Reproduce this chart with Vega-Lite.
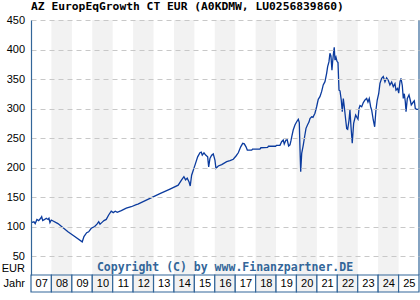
{
  "$schema": "https://vega.github.io/schema/vega-lite/v6.json",
  "autosize": "none",
  "width": 388,
  "height": 255,
  "padding": {"left": 31, "top": 20, "right": 1, "bottom": 25},
  "background": "#ffffff",
  "config": {"view": {"stroke": null}},
  "title": {"text": "AZ EuropEqGrowth CT EUR (A0KDMW, LU0256839860)", "anchor": "start", "frame": "group", "font": "DejaVu Sans Mono", "fontWeight": "bold", "fontSize": 11.3, "color": "#000000", "baseline": "alphabetic", "offset": -7.5},
  "datasets": {
    "years": [
      {"year": 2007, "start": "2007-01-01", "end": "2008-01-01"},
      {"year": 2008, "start": "2008-01-01", "end": "2009-01-01"},
      {"year": 2009, "start": "2009-01-01", "end": "2010-01-01"},
      {"year": 2010, "start": "2010-01-01", "end": "2011-01-01"},
      {"year": 2011, "start": "2011-01-01", "end": "2012-01-01"},
      {"year": 2012, "start": "2012-01-01", "end": "2013-01-01"},
      {"year": 2013, "start": "2013-01-01", "end": "2014-01-01"},
      {"year": 2014, "start": "2014-01-01", "end": "2015-01-01"},
      {"year": 2015, "start": "2015-01-01", "end": "2016-01-01"},
      {"year": 2016, "start": "2016-01-01", "end": "2017-01-01"},
      {"year": 2017, "start": "2017-01-01", "end": "2018-01-01"},
      {"year": 2018, "start": "2018-01-01", "end": "2019-01-01"},
      {"year": 2019, "start": "2019-01-01", "end": "2020-01-01"},
      {"year": 2020, "start": "2020-01-01", "end": "2021-01-01"},
      {"year": 2021, "start": "2021-01-01", "end": "2022-01-01"},
      {"year": 2022, "start": "2022-01-01", "end": "2023-01-01"},
      {"year": 2023, "start": "2023-01-01", "end": "2024-01-01"},
      {"year": 2024, "start": "2024-01-01", "end": "2025-01-01"},
      {"year": 2025, "start": "2025-01-01", "end": "2026-01-01"}
    ],
    "prices": [
      {"d": "2007-01-18", "v": 107}, {"d": "2007-02-23", "v": 108}, {"d": "2007-03-17", "v": 105},
      {"d": "2007-04-17", "v": 112}, {"d": "2007-05-18", "v": 110}, {"d": "2007-06-23", "v": 114},
      {"d": "2007-07-11", "v": 116.6}, {"d": "2007-07-29", "v": 110}, {"d": "2007-09-03", "v": 112},
      {"d": "2007-10-01", "v": 114}, {"d": "2007-11-01", "v": 112}, {"d": "2007-11-18", "v": 114},
      {"d": "2007-12-06", "v": 106.5}, {"d": "2007-12-30", "v": 111}, {"d": "2008-04-27", "v": 105},
      {"d": "2008-10-23", "v": 91}, {"d": "2009-02-21", "v": 83}, {"d": "2009-07-05", "v": 74},
      {"d": "2009-08-05", "v": 83}, {"d": "2009-09-23", "v": 89.5}, {"d": "2009-10-28", "v": 91},
      {"d": "2009-12-14", "v": 97}, {"d": "2010-02-13", "v": 100}, {"d": "2010-03-26", "v": 104},
      {"d": "2010-04-26", "v": 108}, {"d": "2010-05-19", "v": 104}, {"d": "2010-06-24", "v": 107},
      {"d": "2010-07-29", "v": 110}, {"d": "2010-09-08", "v": 112}, {"d": "2010-10-21", "v": 119.5},
      {"d": "2010-12-06", "v": 126}, {"d": "2011-01-11", "v": 123.5}, {"d": "2011-02-16", "v": 126},
      {"d": "2011-03-24", "v": 124}, {"d": "2011-06-04", "v": 127}, {"d": "2011-09-01", "v": 131},
      {"d": "2011-11-29", "v": 133.5}, {"d": "2012-02-27", "v": 137}, {"d": "2012-03-28", "v": 138},
      {"d": "2012-10-29", "v": 147.6}, {"d": "2013-04-25", "v": 155.6}, {"d": "2013-10-22", "v": 163.5},
      {"d": "2014-03-18", "v": 170}, {"d": "2014-05-18", "v": 179}, {"d": "2014-06-28", "v": 184.5},
      {"d": "2014-07-28", "v": 179}, {"d": "2014-08-26", "v": 182}, {"d": "2014-09-26", "v": 176},
      {"d": "2014-10-19", "v": 168.6}, {"d": "2014-11-13", "v": 187}, {"d": "2015-01-12", "v": 204},
      {"d": "2015-03-01", "v": 218}, {"d": "2015-04-11", "v": 225}, {"d": "2015-05-04", "v": 226},
      {"d": "2015-05-22", "v": 221}, {"d": "2015-06-22", "v": 225}, {"d": "2015-07-22", "v": 221},
      {"d": "2015-08-27", "v": 218}, {"d": "2015-09-14", "v": 201}, {"d": "2015-10-07", "v": 215.5},
      {"d": "2015-11-06", "v": 221}, {"d": "2015-12-05", "v": 223}, {"d": "2016-01-04", "v": 212.7},
      {"d": "2016-01-22", "v": 198.6}, {"d": "2016-03-04", "v": 202.5}, {"d": "2016-05-04", "v": 205},
      {"d": "2016-08-01", "v": 210}, {"d": "2016-09-29", "v": 211.6}, {"d": "2016-11-27", "v": 214},
      {"d": "2017-01-15", "v": 219.5}, {"d": "2017-02-25", "v": 225}, {"d": "2017-04-09", "v": 235},
      {"d": "2017-05-15", "v": 241}, {"d": "2017-06-12", "v": 240}, {"d": "2017-07-13", "v": 235},
      {"d": "2017-08-05", "v": 229.6}, {"d": "2017-10-23", "v": 229.6}, {"d": "2017-11-06", "v": 231.3},
      {"d": "2018-03-18", "v": 231.3}, {"d": "2018-04-05", "v": 233.5}, {"d": "2018-08-04", "v": 234},
      {"d": "2018-08-18", "v": 236}, {"d": "2018-12-25", "v": 236}, {"d": "2019-01-09", "v": 237.5},
      {"d": "2019-03-12", "v": 237.5}, {"d": "2019-04-11", "v": 243.7}, {"d": "2019-05-10", "v": 246.6},
      {"d": "2019-05-28", "v": 240}, {"d": "2019-06-27", "v": 246.6}, {"d": "2019-07-20", "v": 247},
      {"d": "2019-08-14", "v": 236.4}, {"d": "2019-09-07", "v": 238.5}, {"d": "2019-09-24", "v": 245},
      {"d": "2019-10-12", "v": 253.4}, {"d": "2019-11-04", "v": 263.5}, {"d": "2019-12-05", "v": 272},
      {"d": "2020-01-05", "v": 277.6}, {"d": "2020-02-03", "v": 281.7}, {"d": "2020-02-21", "v": 276},
      {"d": "2020-03-04", "v": 232.5}, {"d": "2020-03-17", "v": 193}, {"d": "2020-04-04", "v": 224},
      {"d": "2020-05-02", "v": 238}, {"d": "2020-05-28", "v": 253.4}, {"d": "2020-06-20", "v": 266.4},
      {"d": "2020-07-20", "v": 273}, {"d": "2020-08-12", "v": 277}, {"d": "2020-08-30", "v": 283},
      {"d": "2020-09-29", "v": 286}, {"d": "2020-10-22", "v": 285}, {"d": "2020-11-27", "v": 292},
      {"d": "2020-12-27", "v": 303}, {"d": "2021-01-25", "v": 315.6}, {"d": "2021-02-24", "v": 320},
      {"d": "2021-03-26", "v": 328.5}, {"d": "2021-04-24", "v": 340}, {"d": "2021-05-25", "v": 345.5},
      {"d": "2021-06-24", "v": 359.6}, {"d": "2021-07-12", "v": 371}, {"d": "2021-08-04", "v": 379},
      {"d": "2021-08-22", "v": 393.5}, {"d": "2021-09-09", "v": 389}, {"d": "2021-09-27", "v": 365},
      {"d": "2021-10-10", "v": 380}, {"d": "2021-10-24", "v": 393}, {"d": "2021-11-07", "v": 403.6},
      {"d": "2021-11-20", "v": 382}, {"d": "2021-12-08", "v": 387}, {"d": "2021-12-26", "v": 380},
      {"d": "2022-01-13", "v": 378}, {"d": "2022-01-31", "v": 331}, {"d": "2022-02-18", "v": 330},
      {"d": "2022-03-13", "v": 314}, {"d": "2022-03-31", "v": 294.6}, {"d": "2022-04-18", "v": 317},
      {"d": "2022-05-06", "v": 303}, {"d": "2022-05-31", "v": 280.5}, {"d": "2022-06-18", "v": 266},
      {"d": "2022-07-05", "v": 264.8}, {"d": "2022-07-29", "v": 280}, {"d": "2022-08-15", "v": 297.5},
      {"d": "2022-09-02", "v": 270}, {"d": "2022-09-25", "v": 241}, {"d": "2022-10-20", "v": 275},
      {"d": "2022-11-25", "v": 289}, {"d": "2022-12-18", "v": 285}, {"d": "2023-01-06", "v": 282},
      {"d": "2023-01-24", "v": 300}, {"d": "2023-02-11", "v": 305}, {"d": "2023-03-13", "v": 303},
      {"d": "2023-04-11", "v": 310}, {"d": "2023-05-11", "v": 314.4}, {"d": "2023-06-10", "v": 317},
      {"d": "2023-07-03", "v": 311}, {"d": "2023-07-26", "v": 317}, {"d": "2023-08-20", "v": 303},
      {"d": "2023-09-07", "v": 297.5}, {"d": "2023-10-06", "v": 280.5}, {"d": "2023-10-31", "v": 269},
      {"d": "2023-11-23", "v": 297.5}, {"d": "2023-12-16", "v": 314.4}, {"d": "2024-01-11", "v": 325},
      {"d": "2024-02-03", "v": 342.6}, {"d": "2024-03-04", "v": 351}, {"d": "2024-04-02", "v": 354},
      {"d": "2024-05-02", "v": 345}, {"d": "2024-06-01", "v": 352}, {"d": "2024-06-30", "v": 348},
      {"d": "2024-07-30", "v": 340}, {"d": "2024-08-30", "v": 345}, {"d": "2024-09-28", "v": 337},
      {"d": "2024-10-28", "v": 342}, {"d": "2024-11-15", "v": 331}, {"d": "2024-12-15", "v": 334},
      {"d": "2025-01-03", "v": 326}, {"d": "2025-01-26", "v": 345.5}, {"d": "2025-02-13", "v": 351},
      {"d": "2025-03-08", "v": 339}, {"d": "2025-03-26", "v": 317}, {"d": "2025-04-13", "v": 325},
      {"d": "2025-05-01", "v": 311.5}, {"d": "2025-05-14", "v": 294.6}, {"d": "2025-06-06", "v": 317},
      {"d": "2025-07-06", "v": 323}, {"d": "2025-07-29", "v": 314}, {"d": "2025-08-16", "v": 306},
      {"d": "2025-09-21", "v": 311}, {"d": "2025-10-09", "v": 313}, {"d": "2025-10-27", "v": 300},
      {"d": "2025-11-21", "v": 298.6}, {"d": "2025-12-31", "v": 298.6}
    ]
  },
  "encoding": {
    "x": {"type": "temporal", "scale": {"domain": ["2007-01-01", "2026-01-01"]},
      "axis": {"values": [
        {"year": 2007, "month": 1, "date": 1}, {"year": 2008, "month": 1, "date": 1}, {"year": 2009, "month": 1, "date": 1},
        {"year": 2010, "month": 1, "date": 1}, {"year": 2011, "month": 1, "date": 1}, {"year": 2012, "month": 1, "date": 1},
        {"year": 2013, "month": 1, "date": 1}, {"year": 2014, "month": 1, "date": 1}, {"year": 2015, "month": 1, "date": 1},
        {"year": 2016, "month": 1, "date": 1}, {"year": 2017, "month": 1, "date": 1}, {"year": 2018, "month": 1, "date": 1},
        {"year": 2019, "month": 1, "date": 1}, {"year": 2020, "month": 1, "date": 1}, {"year": 2021, "month": 1, "date": 1},
        {"year": 2022, "month": 1, "date": 1}, {"year": 2023, "month": 1, "date": 1}, {"year": 2024, "month": 1, "date": 1},
        {"year": 2025, "month": 1, "date": 1}],
        "format": "%y", "labelOffset": 10.2, "labelAlign": "center", "labelBaseline": "middle", "labelPadding": 8.7,
        "ticks": false, "domain": false, "grid": false, "labelFont": "Liberation Sans", "labelFontSize": 11, "labelColor": "#000000",
        "labelOverlap": false, "labelFlush": false, "zindex": 2,
        "title": "Jahr", "titleFont": "Liberation Sans", "titleFontSize": 11, "titleFontWeight": "normal", "titleColor": "#000000",
        "titleAlign": "right", "titleBaseline": "middle", "titleAngle": 0, "titleX": -6.5, "titleY": 8.7}
    },
    "y": {"type": "quantitative", "scale": {"domain": [17.8, 450], "nice": false, "zero": false},
      "axis": {"values": [50, 100, 150, 200, 250, 300, 350, 400, 450], "ticks": false, "labelPadding": 6.5,
        "labelFont": "Liberation Sans", "labelFontSize": 11, "labelColor": "#000000",
        "domain": true, "domainColor": "#336699", "domainWidth": 1.2,
        "grid": true, "gridColor": "#c8c8c8", "gridDash": [5, 4], "gridWidth": 1, "zindex": 1,
        "title": "EUR", "titleFont": "Liberation Sans", "titleFontSize": 11, "titleFontWeight": "normal", "titleColor": "#000000",
        "titleAngle": 0, "titleAlign": "right", "titleBaseline": "middle", "titleX": -6.5, "titleY": 248}
    }
  },
  "layer": [
    {
      "data": {"name": "years"},
      "transform": [{"filter": "datum.year % 2 == 0"}],
      "mark": {"type": "rect", "fill": "#f2f2f2"},
      "encoding": {"x": {"field": "start"}, "x2": {"field": "end"}}
    },
    {
      "data": {"name": "years"},
      "mark": {"type": "rect", "stroke": "#336699", "strokeWidth": 1.2},
      "encoding": {
        "x": {"field": "start"}, "x2": {"field": "end"},
        "y": {"datum": 17.8}, "y2": {"datum": -11},
        "fill": {"condition": {"test": "datum.year % 2 == 0", "value": "#f2f2f2"}, "value": "#ffffff"}
      }
    },
    {
      "data": {"name": "prices"},
      "mark": {"type": "line", "color": "#0b3b9e", "strokeWidth": 1.3},
      "encoding": {"x": {"field": "d"}, "y": {"field": "v"}}
    },
    {
      "data": {"values": [{}]},
      "mark": {"type": "rule", "color": "#336699", "strokeWidth": 1.2},
      "encoding": {"x": {"datum": {"year": 2026, "month": 1, "date": 1}}}
    },
    {
      "data": {"values": [{}]},
      "mark": {"type": "text", "text": "Copyright (C) by www.Finanzpartner.DE", "font": "DejaVu Sans Mono", "fontWeight": "bold", "fontSize": 11.5, "color": "#336699", "align": "center", "baseline": "middle"},
      "encoding": {"x": {"datum": {"year": 2016, "month": 7, "date": 2}}, "y": {"datum": 30}}
    }
  ]
}
